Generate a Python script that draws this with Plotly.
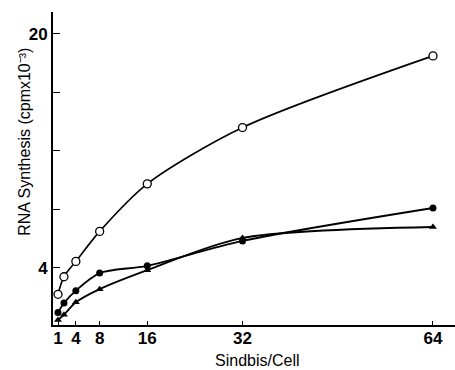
import plotly.graph_objects as go

# Data
sindbis_per_cell = [1, 2, 4, 8, 16, 32, 64]
open_circles = [2.2, 3.4, 4.45, 6.5, 9.75, 13.6, 18.5]
closed_circles = [0.95, 1.6, 2.45, 3.65, 4.15, 5.85, 8.1]
triangles = [0.45, 0.8, 1.65, 2.55, 3.85, 6.05, 6.8]

x_tickvals = [1, 4, 8, 16, 32, 64]
y_tickvals = [4, 8, 12, 16, 20]
y_ticktext = ["<b>4</b>", "", "", "", "<b>20</b>"]
x_ticktext = ["<b>%d</b>" % v for v in x_tickvals]

FONT = "Liberation Sans, Arial, Helvetica, sans-serif"

fig = go.Figure()

fig.add_trace(go.Scatter(
    x=sindbis_per_cell, y=triangles, mode="lines+markers",
    line=dict(color="black", width=1.8, shape="spline", smoothing=0.8),
    marker=dict(symbol="triangle-up", size=7, color="black"),
    cliponaxis=False, showlegend=False))

fig.add_trace(go.Scatter(
    x=sindbis_per_cell, y=closed_circles, mode="lines+markers",
    line=dict(color="black", width=1.8, shape="spline", smoothing=0.8),
    marker=dict(symbol="circle", size=7, color="black"),
    cliponaxis=False, showlegend=False))

fig.add_trace(go.Scatter(
    x=sindbis_per_cell, y=open_circles, mode="lines+markers",
    line=dict(color="black", width=1.6, shape="spline", smoothing=0.8),
    marker=dict(symbol="circle", size=8, color="white",
                line=dict(color="black", width=1.3)),
    cliponaxis=False, showlegend=False))

fig.update_xaxes(
    range=[0.16, 67.7], tickvals=x_tickvals, ticktext=x_ticktext,
    ticks="inside", ticklen=4, ticklabelstandoff=-3,
    tickwidth=1, tickcolor="black", showline=True, linecolor="black",
    linewidth=2, showgrid=False, zeroline=False,
    tickfont=dict(family=FONT, size=17, color="black"))

fig.update_yaxes(
    range=[0.1, 21.5], tickvals=y_tickvals, ticktext=y_ticktext,
    ticks="inside", ticklen=7, tickwidth=1, tickcolor="black",
    showline=True, linecolor="black", linewidth=2, showgrid=False,
    zeroline=False, tickfont=dict(family=FONT, size=17, color="black"))

fig.add_annotation(
    text="RNA Synthesis (cpmx10⁻³)", xref="paper", yref="paper",
    x=-0.07, y=0.585, textangle=-90, showarrow=False,
    xanchor="center", yanchor="middle",
    font=dict(family=FONT, size=16, color="black"))

fig.add_annotation(
    text="Sindbis/Cell", xref="paper", yref="paper",
    x=0.507, y=-0.112, showarrow=False,
    xanchor="center", yanchor="middle",
    font=dict(family=FONT, size=16, color="black"))

fig.update_layout(
    width=455, height=370,
    margin=dict(l=53, r=0, t=12, b=45),
    plot_bgcolor="white", paper_bgcolor="white")

fig.write_html("out.html")
